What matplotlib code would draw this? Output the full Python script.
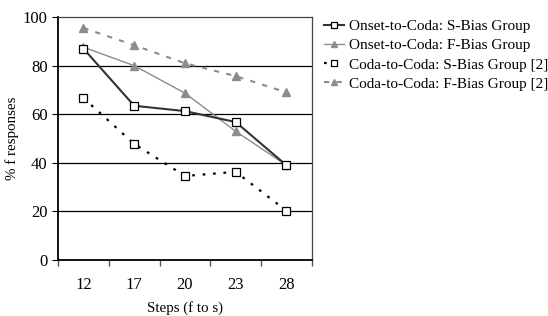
import matplotlib.pyplot as plt
import numpy as np

plt.rcParams['font.family'] = ['Liberation Serif', 'DejaVu Serif']

steps = ['12', '17', '20', '23', '28']
onset_s = [87, 63.5, 61.3, 56.8, 39]
onset_f = [87.6, 80, 68.7, 53, 39]
coda_s = [66.7, 47.8, 34.6, 36.3, 20.3]
coda_f = [95.5, 88.4, 81, 75.7, 69]

x = np.arange(len(steps))

fig = plt.figure(figsize=(5.48, 3.16), dpi=100)
ax = fig.add_axes([0.106, 0.177, 0.463, 0.769])

for v in [20, 40, 60, 80]:
    ax.axhline(v, color='black', lw=0.9, zorder=1)

ax.plot(x, onset_s, color='#333333', lw=1.5, marker='s', ms=5.5,
        mfc='white', mec='black', mew=0.9, label='Onset-to-Coda: S-Bias Group', zorder=4)
ax.plot(x, onset_f, color='#8c8c8c', lw=1.0, marker='^', ms=6,
        mfc='#8c8c8c', mec='#8c8c8c', label='Onset-to-Coda: F-Bias Group', zorder=3)
ax.plot(x, coda_s, color='black', lw=1.6, ls=(0, (1.2, 3.5)), marker='s', ms=5.5,
        mfc='white', mec='black', mew=0.9, label='Coda-to-Coda: S-Bias Group [2]', zorder=4)
ax.plot(x, coda_f, color='#8c8c8c', lw=1.5, ls=(0, (2.5, 3.5)), marker='^', ms=6,
        mfc='#8c8c8c', mec='#8c8c8c', label='Coda-to-Coda: F-Bias Group [2]', zorder=3)

ax.set_xlim(-0.5, len(steps) - 0.5)
ax.set_ylim(0, 100)
ax.set_yticks([0, 20, 40, 60, 80, 100])
ax.set_xticks(x)
ax.set_xticklabels(steps)
ax.set_xticks(np.arange(-0.5, len(steps)), minor=True)
ax.tick_params(axis='x', which='major', length=0, pad=12, labelsize=12)
ax.tick_params(axis='x', which='minor', length=4, direction='out', width=1, color='#555555')
ax.tick_params(axis='y', length=4, direction='out', labelsize=12)

for s in ['left', 'bottom']:
    ax.spines[s].set_color('black')
    ax.spines[s].set_linewidth(1.3)
for s in ['top', 'right']:
    ax.spines[s].set_color('#444444')
    ax.spines[s].set_linewidth(0.9)

ax.set_xlabel('Steps (f to s)', fontsize=10.8, labelpad=6)
ax.set_ylabel('% f responses', fontsize=10.8, labelpad=3)

leg = ax.legend(loc='upper left', bbox_to_anchor=(1.05, 0.99), frameon=False, fontsize=11,
                handlelength=1.3, handletextpad=0.3, labelspacing=0.36,
                borderaxespad=0, borderpad=0, markerscale=0.75)

fig.savefig('out.png', dpi=100)
